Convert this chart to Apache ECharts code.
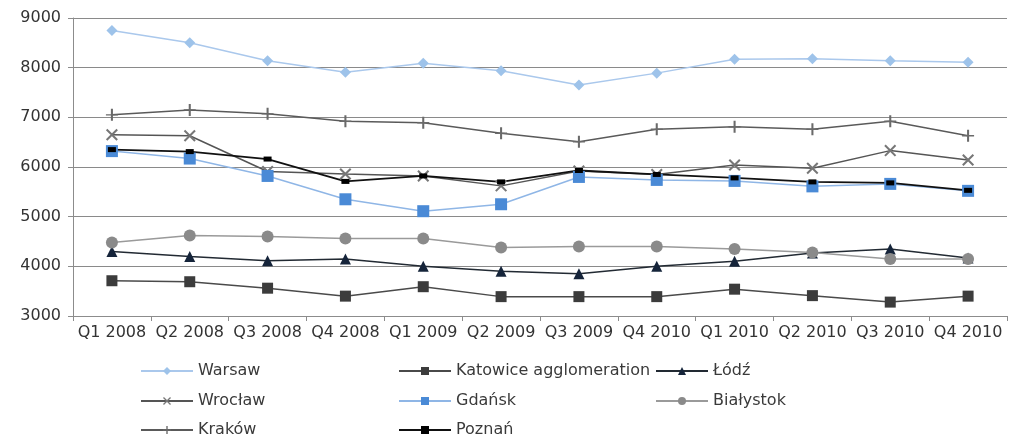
<!DOCTYPE html>
<html>
<head>
<meta charset="utf-8">
<script src="https://cdn.jsdelivr.net/npm/echarts@6/dist/echarts.min.js"></script>
<style>
  html, body { margin: 0; padding: 0; background: #fff; }
  #chart { width: 1013px; height: 437px; }
</style>
</head>
<body>
<div id="chart"></div>
<script>
// Quarterly values per city
const quarters = ['Q1 2008', 'Q2 2008', 'Q3 2008', 'Q4 2008', 'Q1 2009', 'Q2 2009',
                  'Q3 2009', 'Q4 2010', 'Q1 2010', 'Q2 2010', 'Q3 2010', 'Q4 2010'];
const warsaw    = [8750, 8500, 8140, 7910, 8090, 7940, 7650, 7890, 8170, 8180, 8140, 8110];
const katowice  = [3710, 3690, 3560, 3400, 3590, 3390, 3390, 3390, 3540, 3410, 3280, 3400];
const lodz      = [4300, 4200, 4110, 4150, 4000, 3900, 3850, 4000, 4100, 4270, 4350, 4170];
const wroclaw   = [6650, 6630, 5910, 5860, 5820, 5620, 5920, 5850, 6040, 5975, 6330, 6140];
const gdansk    = [6320, 6170, 5820, 5350, 5110, 5250, 5800, 5740, 5720, 5610, 5660, 5520];
const bialystok = [4480, 4620, 4600, 4560, 4560, 4380, 4400, 4400, 4350, 4280, 4150, 4150];
const krakow    = [7050, 7150, 7070, 6920, 6890, 6680, 6510, 6760, 6810, 6760, 6920, 6630];
const poznan    = [6350, 6310, 6160, 5710, 5820, 5700, 5930, 5850, 5780, 5700, 5680, 5530];
const yTicks    = { min: 3000, max: 9000, step: 1000 };

const FONT = '"DejaVu Sans", sans-serif';
const crossPath = 'path://M0,1.2 L1.2,0 L10,8.8 L8.8,10 Z M8.8,0 L10,1.2 L1.2,10 L0,8.8 Z';
const plusPath  = 'path://M4.4,0 H5.6 V10 H4.4 Z M1.5,4.4 H8.5 V5.6 H1.5 Z';

function line(name, data, lineColor, symbol, size, markColor, width) {
  return {
    name, type: 'line', data,
    symbol, symbolSize: size, showSymbol: true,
    lineStyle: { color: lineColor, width: width || 1.5 },
    itemStyle: { color: markColor, borderWidth: 0 },
    emphasis: { disabled: true },
    animation: false
  };
}

// Legend entries laid out in a 3-column grid, one legend component each
const legendText = { fontFamily: FONT, fontSize: 16, color: '#3a3a3a' };
const colX = [140, 398, 655];
const rowY = [363, 393, 422];
function legendAt(col, row, name) {
  return {
    left: colX[col], top: rowY[row], padding: 0, itemWidth: 52, itemHeight: 10, itemGap: 5,
    data: [name], textStyle: legendText, selectedMode: false
  };
}

const chart = echarts.init(document.getElementById('chart'), null, { renderer: 'canvas' });
chart.setOption({
  backgroundColor: '#ffffff',
  animation: false,
  grid: { left: 73, right: 6, top: 18, bottom: 121, containLabel: false },
  xAxis: {
    type: 'category', data: quarters, boundaryGap: true,
    axisLine: { lineStyle: { color: '#8c8c8c', width: 1 } },
    axisTick: { show: true, alignWithLabel: false, length: 5, lineStyle: { color: '#8c8c8c' } },
    axisLabel: { interval: 0, margin: 9, fontFamily: FONT, fontSize: 16, color: '#333' }
  },
  yAxis: {
    type: 'value', min: yTicks.min, max: yTicks.max, interval: yTicks.step,
    axisLine: { show: true, lineStyle: { color: '#8c8c8c', width: 1 } },
    axisTick: { show: true, length: 5, lineStyle: { color: '#8c8c8c' } },
    axisLabel: { margin: 12, fontFamily: FONT, fontSize: 16, color: '#333',
                 formatter: v => String(v) },
    splitLine: { lineStyle: { color: '#8a8a8a', width: 1 } }
  },
  legend: [
    legendAt(0, 0, 'Warsaw'),
    legendAt(1, 0, 'Katowice agglomeration'),
    legendAt(2, 0, 'Łódź'),
    legendAt(0, 1, 'Wrocław'),
    legendAt(1, 1, 'Gdańsk'),
    legendAt(2, 1, 'Białystok'),
    legendAt(0, 2, 'Kraków'),
    legendAt(1, 2, 'Poznań')
  ],
  series: [
    line('Warsaw', warsaw, '#aac8ec', 'diamond', 11, '#9ec3ea', 1.5),
    line('Katowice agglomeration', katowice, '#4a4a4a', 'rect', 11, '#3c3c3c'),
    line('Łódź', lodz, '#222a33', 'triangle', 11, '#15243a'),
    line('Wrocław', wroclaw, '#555555', crossPath, 12, '#777777'),
    line('Gdańsk', gdansk, '#8fb6e6', 'rect', 12, '#4a8ad6'),
    line('Białystok', bialystok, '#9a9a9a', 'circle', 12, '#8a8a8a'),
    line('Kraków', krakow, '#5a5a5a', plusPath, 12, '#6a6a6a'),
    line('Poznań', poznan, '#111111', 'rect', [8, 5], '#000000', 1.8)
  ]
});
</script>
</body>
</html>
